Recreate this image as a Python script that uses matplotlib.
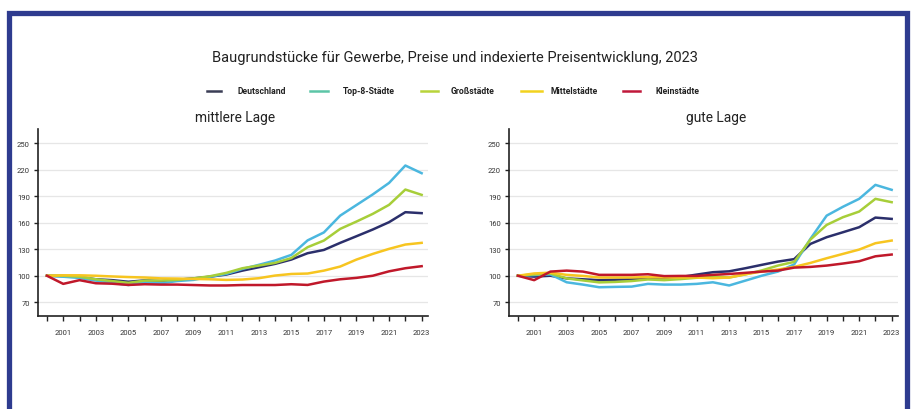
import matplotlib
matplotlib.use("Agg")
import matplotlib.pyplot as plt
from matplotlib.lines import Line2D
from matplotlib.patches import Rectangle

plt.rcParams['font.family'] = ['Roboto', 'DejaVu Sans']

years = list(range(2000, 2024))
xlabels = [str(y) if y % 2 == 1 else '' for y in years]
yticks = [70, 100, 130, 160, 190, 220, 250]

series_names = ['Deutschland', 'Top-8-Städte', 'Großstädte', 'Mittelstädte', 'Kleinstädte']
line_colors = ['#2B2F6B', '#4BB7DF', '#A7CE39', '#F7C520', '#C0182A']
legend_colors = ['#3A3D55', '#5CC5A7', '#B8D43A', '#F2D21E', '#C0183A']

# mittlere Lage
de_m = [100, 99.6, 98.5, 96, 95, 93.2, 94.7, 94, 95.5, 97, 98.9, 101.3, 105.8, 109.6, 113.4, 118.3, 125.5, 129.2, 137.2, 144.7, 152.3, 160.6, 171.9, 170.8]
top8_m = [100, 98.9, 97.5, 94.5, 92, 89.5, 92.6, 91.5, 94, 95.3, 98.9, 102, 107.7, 112.3, 117.2, 123.6, 140, 149, 168, 180, 192, 205, 224.7, 216]
gross_m = [100, 100, 98.9, 96, 94, 92, 94.5, 94.5, 95.3, 97, 99.4, 103.2, 108.5, 111.5, 114.5, 120, 132.3, 139.8, 153, 161.3, 170, 180.2, 197.5, 191.5]
mittel_m = [100, 100.5, 100.5, 100, 99.2, 98.5, 98, 97, 96.8, 96.4, 96, 95.3, 95.7, 97.2, 100.2, 102, 102.5, 105.8, 110.4, 118.3, 124.7, 130.4, 135.3, 137.2]
klein_m = [100, 90.8, 95, 91.5, 91, 89.6, 90.4, 90, 90, 89.5, 89, 89, 89.5, 89.5, 89.5, 90.4, 89.6, 93.4, 96, 97.6, 100, 105, 108.5, 110.8]

# gute Lage
de_g = [100, 99, 100, 97, 96, 95, 95.5, 96, 97, 97.5, 98.5, 101.3, 104, 105, 108.5, 112.3, 116, 118.8, 136, 143.6, 149.2, 154.9, 165.8, 164.3]
top8_g = [100, 100.8, 101.5, 92.6, 90, 87, 87.4, 87.7, 90.8, 90, 90, 90.8, 92.6, 89, 94.5, 100, 104.7, 112.8, 141.7, 168, 178, 187, 202.8, 197.2]
gross_g = [100, 101.5, 102.6, 97, 94.7, 92.5, 93, 94, 95.8, 95, 96.2, 97.7, 99.2, 98, 101.5, 106, 111.5, 115.7, 140.9, 157.5, 166.2, 172.6, 187, 183.2]
mittel_g = [100, 102.6, 103.5, 101, 99.8, 98, 98, 98, 98.5, 98, 98, 98, 97.2, 98, 101.7, 104.7, 107, 110, 114.5, 119.8, 124.7, 129.6, 136.8, 139.8]
klein_g = [100, 95, 104.7, 105.8, 104.7, 101, 101, 101, 101.7, 99.6, 99.8, 99.8, 101, 102, 103.3, 104.7, 105.8, 109.2, 110, 111.5, 113.8, 116.4, 122, 124]

panels = [
    ('mittlere Lage', [de_m, top8_m, gross_m, mittel_m, klein_m]),
    ('gute Lage', [de_g, top8_g, gross_g, mittel_g, klein_g]),
]

W, H = 912, 410
fig = plt.figure(figsize=(W / 100, H / 100), dpi=100)
fig.patch.set_facecolor('white')
renderer = fig.canvas.get_renderer()


def fit(t, width_px):
    bb = t.get_window_extent(renderer=renderer)
    t.set_fontsize(t.get_fontsize() * width_px / bb.width)


# border (open at bottom)
fig.add_artist(Rectangle((9.5 / W, -0.1), (907 - 9.5) / W, 1.1 - 13.5 / H,
                         transform=fig.transFigure, fill=False,
                         edgecolor='#2E3B8F', linewidth=3.8, clip_on=False))

t = fig.text(455 / W, 1 - 58 / H, 'Baugrundstücke für Gewerbe, Preise und indexierte Preisentwicklung, 2023',
             ha='center', va='center', fontsize=11, color='#222222')
fit(t, 485)

# legend (manual placement)
leg_line_x = [(207, 221), (310, 328), (421, 438), (521, 542), (623, 640)]
leg_text_x = [238, 343, 451, 551, 656]
ly = 1 - 91.5 / H
for name, c, (a, b), ta in zip(series_names, legend_colors, leg_line_x, leg_text_x):
    fig.add_artist(Line2D([a / W, b / W], [ly, ly], color=c, lw=1.8, transform=fig.transFigure))
    fig.text(ta / W, ly, name, ha='left', va='center', fontsize=6.2, fontweight='bold', color='#222222')

axes_rects = [
    (38.3 / W, 1 - 316.7 / H, (428 - 38.3) / W, (316.7 - 130) / H),
    (509.3 / W, 1 - 316.7 / H, (898 - 509.3) / W, (316.7 - 130) / H),
]
title_pos = [(235, 80), (716, 60)]

for (title, data), rect, (tx, tw) in zip(panels, axes_rects, title_pos):
    ax = fig.add_axes(rect)
    for vals, c in zip(data, line_colors):
        ax.plot(years, vals, color=c, lw=1.8, solid_joinstyle='round')
    ax.set_xlim(1999.47, 2023.39)
    ax.set_ylim(54.8, 266)
    ax.set_yticks(yticks)
    ax.set_yticklabels([str(v) for v in yticks], fontsize=5.5, color='#333333')
    ax.set_xticks(years)
    ax.set_xticklabels(xlabels, fontsize=5.5, color='#333333')
    ax.tick_params(axis='x', length=3.5, width=1.0, pad=6, color='#222222')
    ax.tick_params(axis='y', length=3, width=1.0, pad=3, color='#222222')
    ax.grid(axis='y', color='#E6E6E6', lw=0.9)
    ax.set_axisbelow(True)
    for s in ['top', 'right']:
        ax.spines[s].set_visible(False)
    for s in ['left', 'bottom']:
        ax.spines[s].set_color('#222222')
        ax.spines[s].set_linewidth(1.2)
    pt = fig.text(tx / W, 1 - 118 / H, title, ha='center', va='center', fontsize=11, color='#222222')
    fit(pt, tw)

fig.savefig('out.png', dpi=100)
